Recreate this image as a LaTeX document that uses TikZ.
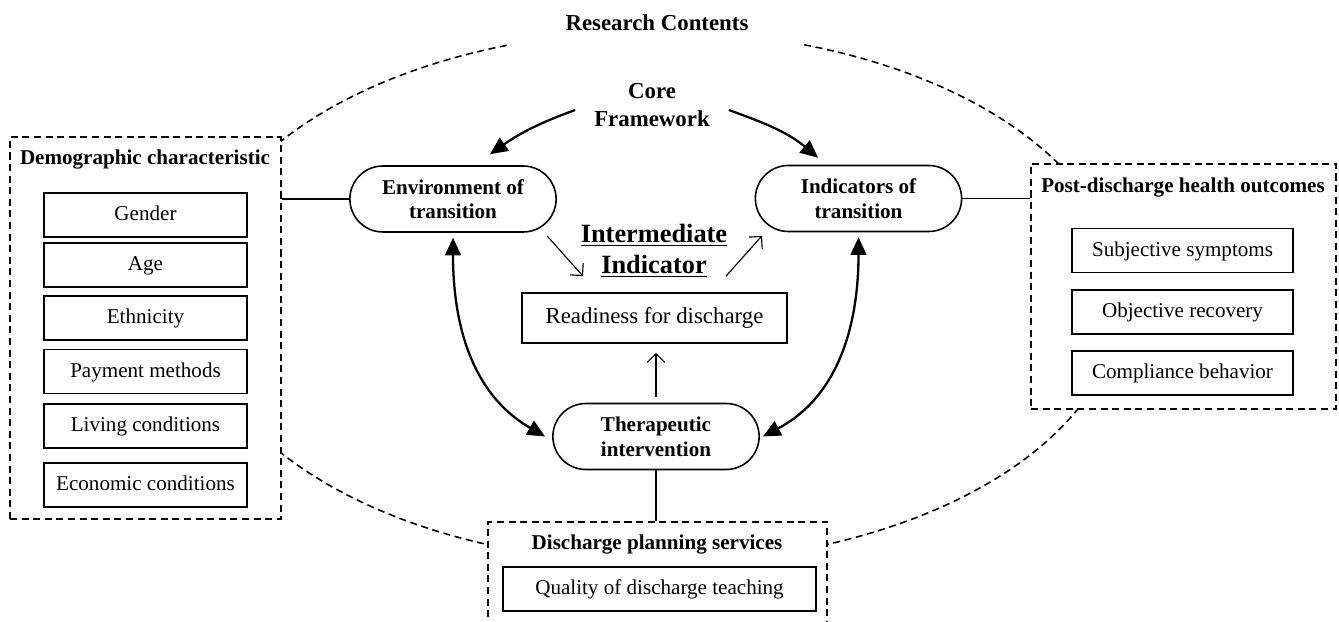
\documentclass[tikz,border=0pt]{standalone}
\usepackage{fontspec}
\setmainfont{Liberation Serif}
\usetikzlibrary{arrows.meta,positioning,shapes.misc,calc}
\tikzset{
	grp/.style     = {rectangle,draw,dash pattern=on 4pt off 2.6pt,
		line width=0.9pt,fill=white},
	grptitle/.style= {font=\fontsize{12}{14}\selectfont\bfseries},
	item/.style    = {rectangle,draw,line width=1pt,fill=white,
		minimum height=0.88cm,text height=0.82em,text depth=0.18em,
		font=\fontsize{12}{14}\selectfont},
	pill/.style    = {rounded rectangle,draw,line width=0.9pt,fill=white,
		minimum width=4.36cm,minimum height=1.32cm,align=center,
		font=\fontsize{12}{14}\selectfont\bfseries},
	bigarr/.style  = {{Triangle[length=10pt,width=9pt]}-{Triangle[length=10pt,width=9pt]},
		line width=1.3pt},
	onearr/.style  = {-{Triangle[length=10pt,width=9pt]},line width=1.3pt},
	thinarr/.style = {-{Straight Barb[length=5pt,width=10pt]},line width=0.65pt},
	link/.style    = {line width=0.75pt},
}

\begin{document}
\begin{tikzpicture}[x=0.02cm,y=0.02cm]
	\useasboundingbox (0,0) rectangle (1339,-622);
	
	% dashed outline round the whole study
	\draw[dash pattern=on 4pt off 2.6pt,line width=0.9pt]
	plot[domain=108.9:431.5,samples=150,variable=\t]
	({657+464*cos(\t)},{-297+266*sin(\t)});
	\node (rc) [font=\fontsize{13}{15}\selectfont\bfseries] at (657,-23) {Research Contents};
	
	% left group
	\node (demo) [grp,minimum width=5.42cm,minimum height=7.64cm] at (145.5,-328) {};
	\node (demot) [grptitle] at (145,-160) {Demographic characteristic};
	\foreach \nm/\ypos/\txt in {gen/215/Gender,age/265/Age,eth/318/Ethnicity,
		pay/371.5/Payment methods,liv/426/Living conditions,eco/485/Economic conditions}
	\node (\nm) [item,minimum width=4.06cm] at (145.5,-\ypos) {\txt};
	
	% right group
	\node (post) [grp,minimum width=6.1cm,minimum height=4.9cm] at (1183.5,-286.5) {};
	\node (postt) [grptitle] at (1183,-188) {Post-discharge health outcomes};
	\foreach \nm/\ypos/\txt in {subj/250.5/Subjective symptoms,
		obj/312/Objective recovery,comp/373/Compliance behavior}
	\node (\nm) [item,minimum width=4.42cm] at (1182.5,-\ypos) {\txt};
	
	% bottom group
	\node (plan) [grp,minimum width=6.78cm,minimum height=2.3cm,anchor=north] at (657.5,-521) {};
	\node (plant) [grptitle] at (657,-545) {Discharge planning services};
	\node (qual) [item,minimum width=6.26cm] at (659.5,-589) {Quality of discharge teaching};
	
	% core framework
	\node (core) [align=center,font=\fontsize{13}{16}\selectfont\bfseries] at (652,-105) {Core\\Framework};
	\node (env) [pill] at (453,-199) {Environment of\\transition};
	\node (ind) [pill] at (858.5,-198.5) {Indicators of\\transition};
	\node (ther) [pill] at (656,-436.5) {Therapeutic\\intervention};
	\node (mid) [align=center,font=\fontsize{15}{17.6}\selectfont\bfseries] at (654,-251)
	{\underline{Intermediate}\\\underline{Indicator}};
	\node (read) [item,minimum width=5.3cm,minimum height=1cm,
	font=\fontsize{13}{15}\selectfont] at (654.5,-318) {Readiness for discharge};
	
	\draw[link] (env.west) -- (env.west -| demo.east);
	\draw[link] (ind.east) -- (ind.east -| post.west);
	\draw[link] (ther.south) -- (ther.south |- plan.north);
	
	\draw[onearr] ([xshift=-0.26cm,yshift=-0.1cm]core.west) to[out=200,in=35]
	([xshift=0.74cm,yshift=0.22cm]env.north);
	\draw[onearr] ([xshift=0.26cm,yshift=-0.1cm]core.east) to[out=-20,in=140]
	([xshift=-0.81cm,yshift=0.14cm]ind.north);
	\draw[bigarr] ([yshift=-0.1cm]env.south) to[out=-90,in=150] ([xshift=-0.14cm]ther.west);
	\draw[bigarr] ([yshift=-0.1cm]ind.south) to[out=-90,in=28] ([xshift=0.06cm]ther.east);
	
	\draw[thinarr] ([xshift=1.88cm,yshift=-0.06cm]env.south) -- ([xshift=-1.43cm,yshift=0.32cm]read.north);
	\draw[thinarr] ([xshift=1.43cm,yshift=0.32cm]read.north) -- ([xshift=-1.93cm,yshift=-0.07cm]ind.south);
	\draw[thinarr,shorten <=0.12cm,shorten >=0.18cm] (ther.north) -- (ther.north |- read.south);
\end{tikzpicture}
\end{document}
